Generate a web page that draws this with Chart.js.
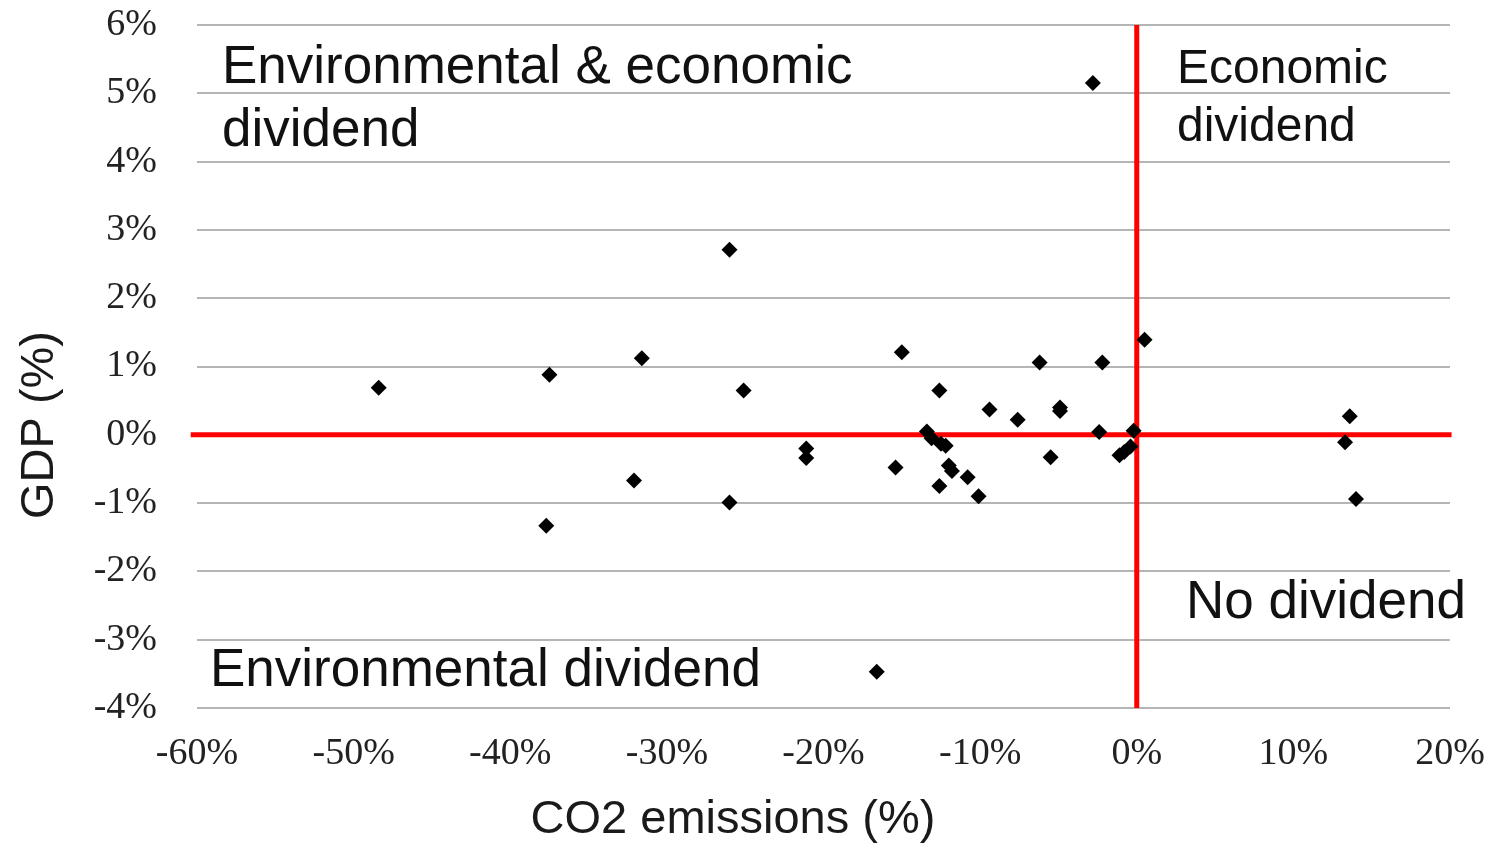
<!DOCTYPE html>
<html>

<head>
  <title>CO2 vs GDP dividend</title>
  <script src="https://cdn.jsdelivr.net/npm/chart.js"></script>
  <style>
    body { margin: 0; background: #fff; }
    #wrap { width: 1489px; height: 843px; }
  </style>
</head>

<body>
  <div id="wrap"><canvas id="myChart"></canvas></div>
  <script>
    // change in CO2 emissions (%) and GDP (%) per point
    const co2 = [-48.4, -37.5, -37.7, -31.6, -32.1, -26.0, -25.1, -26.0, -21.1, -21.1,
      -15.0, -15.4, -16.6, -12.6, -6.2, -2.2, 0.5, -9.4, -7.6, -4.9,
      -4.9, -13.4, -13.1, -12.5, -12.2, -2.4, -0.2, -1.1, -0.8, -0.4,
      -5.5, -12.0, -11.8, -10.8, -12.6, -10.1, 13.6, 13.3, 14.0, -2.8];
    const gdp = [0.69, 0.88, -1.33, 1.12, -0.67, 2.71, 0.65, -0.99, -0.20, -0.34,
      1.21, -0.48, -3.47, 0.65, 1.06, 1.06, 1.39, 0.37, 0.22, 0.40,
      0.35, 0.05, -0.05, -0.13, -0.16, 0.04, 0.06, -0.30, -0.25, -0.17,
      -0.33, -0.45, -0.53, -0.62, -0.75, -0.90, 0.27, -0.11, -0.94, 5.15];

    const xTicks = [-60, -50, -40, -30, -20, -10, 0, 10, 20];
    const yTicks = [-4, -3, -2, -1, 0, 1, 2, 3, 4, 5, 6];

    // quadrant divider lines
    const hLine = [{ x: -60.4, y: 0 }, { x: 20.1, y: 0 }];
    const vLine = [{ x: 0, y: 6 }, { x: 0, y: -4 }];

    const points = co2.map((v, i) => ({ x: v, y: gdp[i] }));

    const labelPlugin = {
      id: 'labels',
      afterDraw(chart) {
        const c = chart.ctx;
        c.save();
        c.fillStyle = '#111';
        c.textBaseline = 'middle';
        c.textAlign = 'left';
        c.font = '53px "Liberation Sans", Arial, sans-serif';
        c.fillText('Environmental & economic', 222, 68);
        c.fillText('dividend', 222, 131);
        c.fillText('No dividend', 1186, 603);
        c.fillText('Environmental dividend', 210, 671);
        c.font = '48px "Liberation Sans", Arial, sans-serif';
        c.fillText('Economic', 1177, 70);
        c.fillText('dividend', 1177, 128);

        // axis titles
        c.fillStyle = '#1a1a1a';
        c.font = '47px "Liberation Sans", Arial, sans-serif';
        c.textAlign = 'center';
        c.fillText('CO2 emissions (%)', 733, 820);
        c.translate(40, 425);
        c.rotate(-Math.PI / 2);
        c.fillText('GDP (%)', 0, 0);
        c.restore();
      }
    };

    const tickFont = { family: '"Liberation Serif", "Times New Roman", serif', size: 38 };

    const ctx = document.getElementById('myChart').getContext('2d');
    const myChart = new Chart(ctx, {
      type: 'scatter',
      data: {
        datasets: [{
          label: 'Points',
          data: points,
          pointStyle: 'rectRot',
          pointRadius: 8,
          pointHoverRadius: 8,
          backgroundColor: '#000',
          borderColor: '#000',
          borderWidth: 0,
          order: 0
        }, {
          label: 'h',
          data: hLine,
          showLine: true,
          borderColor: '#ff0000',
          borderWidth: 5,
          pointRadius: 0,
          clip: false,
          order: 1
        }, {
          label: 'v',
          data: vLine,
          showLine: true,
          borderColor: '#ff0000',
          borderWidth: 5,
          pointRadius: 0,
          clip: false,
          order: 1
        }]
      },
      options: {
        responsive: true,
        maintainAspectRatio: false,
        animation: false,
        layout: { padding: { top: 25, right: 39, left: 0, bottom: 0 } },
        plugins: {
          legend: { display: false },
          tooltip: { enabled: false }
        },
        scales: {
          x: {
            type: 'linear',
            min: -60,
            max: 20,
            afterBuildTicks: s => { s.ticks = xTicks.map(v => ({ value: v })); },
            afterFit: s => { s.height = 135; s.paddingLeft = 0; s.paddingRight = 0; },
            grid: { display: false },
            border: { display: false },
            ticks: {
              padding: 15,
              color: '#222',
              font: tickFont,
              callback: v => v + '%'
            }
          },
          y: {
            type: 'linear',
            min: -4,
            max: 6,
            afterBuildTicks: s => { s.ticks = yTicks.map(v => ({ value: v })); },
            afterFit: s => { s.width = 197; s.paddingTop = 0; s.paddingBottom = 0; },
            grid: { color: '#b5b5b5', lineWidth: 2, drawTicks: false },
            border: { display: false },
            ticks: {
              padding: 40,
              color: '#222',
              font: tickFont,
              callback: v => v + '%'
            }
          }
        }
      },
      plugins: [labelPlugin]
    });
  </script>
</body>

</html>
